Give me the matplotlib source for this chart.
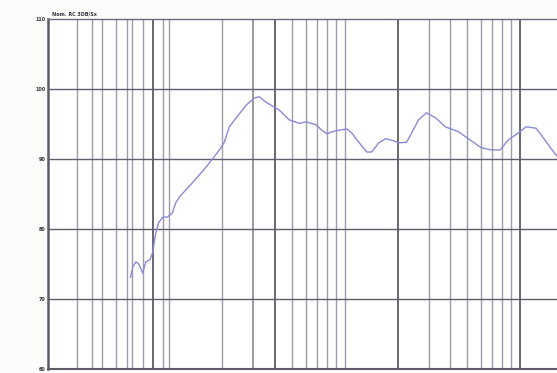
import numpy as np
import matplotlib
matplotlib.use("Agg")
import matplotlib.pyplot as plt

# frequency response curve (Hz, dB)
freq = [6.6, 6.9, 7.3, 7.7, 8.3, 8.8, 9.5, 10.0, 10.6, 11.2, 12.1, 13.2, 14.5,
        15.4, 16.6, 21.1, 27.5, 35.1, 38.5, 42.3, 48.2, 58.1, 67.5, 74.1, 84.5,
        108, 130, 157, 179, 215, 241, 265, 291, 331, 385, 423, 482, 560, 615,
        701, 799, 927, 1019, 1184, 1300, 1483, 1722, 2037, 2455, 3133, 3920,
        4816, 5808, 6876, 7980, 9630, 11190, 13490, 15960, 17540, 20000]
level = [73.1, 74.6, 75.3, 75.0, 73.7, 75.3, 75.6, 76.6, 79.4, 80.9, 81.7, 81.7, 82.3,
         83.7, 84.6, 86.6, 88.9, 91.3, 92.4, 94.6, 95.9, 97.7, 98.7, 98.9, 98.1,
         97.0, 95.6, 95.1, 95.3, 94.9, 94.1, 93.6, 93.9, 94.1, 94.3, 93.7, 92.4, 91.0, 91.0,
         92.3, 92.9, 92.6, 92.3, 92.4, 93.7, 95.6, 96.6, 95.9, 94.6, 93.9, 92.7,
         91.6, 91.3, 91.3, 92.7, 93.7, 94.6, 94.4, 92.7, 91.7, 90.4]

# vertical grid lines of the printed chart
grid_light = [2.41, 3.19, 3.85, 5.0, 6.15, 6.75, 8.3, 12.1, 13.7, 37.1,
              137, 179, 219, 265, 313, 371,
              1800, 2700, 3700, 4820, 5920, 7150, 8450]
grid_mid = [66.2]
grid_dark = [10, 100, 1000, 10000]
db_ticks = [60, 70, 80, 90, 100, 110]

fig = plt.figure(figsize=(5.57, 3.73), dpi=100)
fig.patch.set_facecolor('#fdfcfa')
ax = fig.add_axes([48/557, 4/373, 1 - 48/557, 350/373])
ax.set_facecolor('white')

for f in grid_light:
    ax.axvline(f, color='#9c9cab', lw=1.0, zorder=1)
for f in grid_mid:
    ax.axvline(f, color='#7c7c8c', lw=1.1, zorder=1)
for f in grid_dark:
    ax.axvline(f, color='#5a5a68', lw=1.3, zorder=1)
for d in db_ticks[1:-1]:
    ax.axhline(d, color='#5f5f6c', lw=1.0, zorder=1)

ax.plot(freq, level, color='#8a8ad6', lw=1.0, zorder=3)

ax.set_xscale('log')
ax.set_xlim(1.4, 20000)
ax.set_ylim(60, 110)
ax.set_xticks([])
ax.minorticks_off()
ax.set_yticks(db_ticks)
ax.set_yticklabels([str(d) for d in db_ticks], fontsize=3.5, color='#333340',
                   fontweight='bold')
ax.tick_params(axis='y', length=0, pad=2)

ax.spines['right'].set_visible(False)
ax.spines['left'].set_color('#5c5c6a')
ax.spines['left'].set_linewidth(1.8)
ax.spines['top'].set_color('#6a6a78')
ax.spines['top'].set_linewidth(1.0)
ax.spines['bottom'].set_color('#5c5c6a')
ax.spines['bottom'].set_linewidth(1.5)

fig.text(52/557, 1 - 14/373, 'Nom. RC 3DB/Sx', fontsize=3.5, color='#333340',
         fontweight='bold', va='center')

fig.savefig('out.png', dpi=100, facecolor=fig.get_facecolor())
